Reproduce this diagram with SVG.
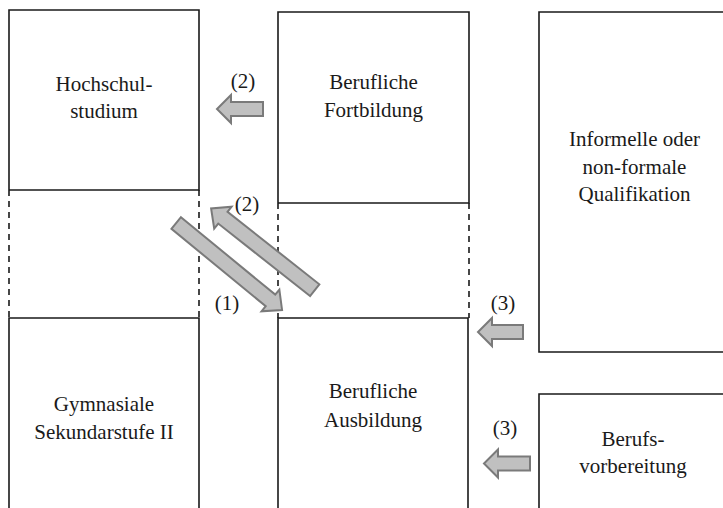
<svg xmlns="http://www.w3.org/2000/svg" width="723" height="508" viewBox="0 0 723 508">
<style>
.box{fill:none;stroke:#1a1a1a;stroke-width:1.6}
.dash{fill:none;stroke:#1a1a1a;stroke-width:1.6;stroke-dasharray:6 5}
.t{font-family:"Liberation Serif","Times New Roman",serif;font-size:21px;fill:#1a1a1a;text-anchor:middle}
.arr{fill:#c0c0c0;stroke:#7a7a7a;stroke-width:2;stroke-linejoin:miter}
</style>
<rect width="723" height="508" fill="#ffffff"/>
<g id="hochschulstudium">
<path class="box" d="M9,190 V10 H199 V190 H9"/>
<path class="dash" d="M9,190 V318 M199,190 V318"/>
<text class="t" x="104" y="91">Hochschul-</text>
<text class="t" x="104" y="118">studium</text>
</g>
<g id="fortbildung">
<path class="box" d="M278,203 V12 H469 V203 H278"/>
<path class="dash" d="M278,203 V318 M469,203 V318"/>
<text class="t" x="373.5" y="89">Berufliche</text>
<text class="t" x="373.5" y="117">Fortbildung</text>
</g>
<g id="informelle">
<path class="box" d="M724,12 H539 V352 H724"/>
<text class="t" x="634.5" y="146">Informelle oder</text>
<text class="t" x="634.5" y="174">non-formale</text>
<text class="t" x="634.5" y="201">Qualifikation</text>
</g>
<g id="gymnasiale">
<path class="box" d="M9,509 V318 H199 V509"/>
<text class="t" x="104" y="411">Gymnasiale</text>
<text class="t" x="104" y="439">Sekundarstufe II</text>
</g>
<g id="ausbildung">
<path class="box" d="M278,509 V318 H468 V509"/>
<text class="t" x="373" y="398">Berufliche</text>
<text class="t" x="373" y="427">Ausbildung</text>
</g>
<g id="berufsvorbereitung">
<path class="box" d="M724,394 H539 V509"/>
<text class="t" x="633" y="446">Berufs-</text>
<text class="t" x="633" y="473">vorbereitung</text>
</g>
<g id="connectors">
<path class="arr" d="M263,102 H231 V95 L217,109 L231,123 V116 H263 Z"/>
<text class="t" x="243" y="88">(2)</text>
<path class="arr" d="M523,325 H492 V318 L478,332 L492,346 V339 H523 Z"/>
<text class="t" x="503" y="310">(3)</text>
<path class="arr" d="M530,456.5 H498 V449.5 L484,463.5 L498,477.5 V470.5 H530 Z"/>
<text class="t" x="505" y="435">(3)</text>
<path class="arr" transform="translate(176.2,223) rotate(39.4)" d="M0,-7.5 H122 V-14 L137,0 L122,14 V7.5 H0 Z"/>
<text class="t" x="227" y="310">(1)</text>
<path class="arr" transform="translate(314.7,290.2) rotate(218.3)" d="M0,-7.5 H117 V-14 L132,0 L117,14 V7.5 H0 Z"/>
<text class="t" x="247" y="211">(2)</text>
</g>
</svg>
